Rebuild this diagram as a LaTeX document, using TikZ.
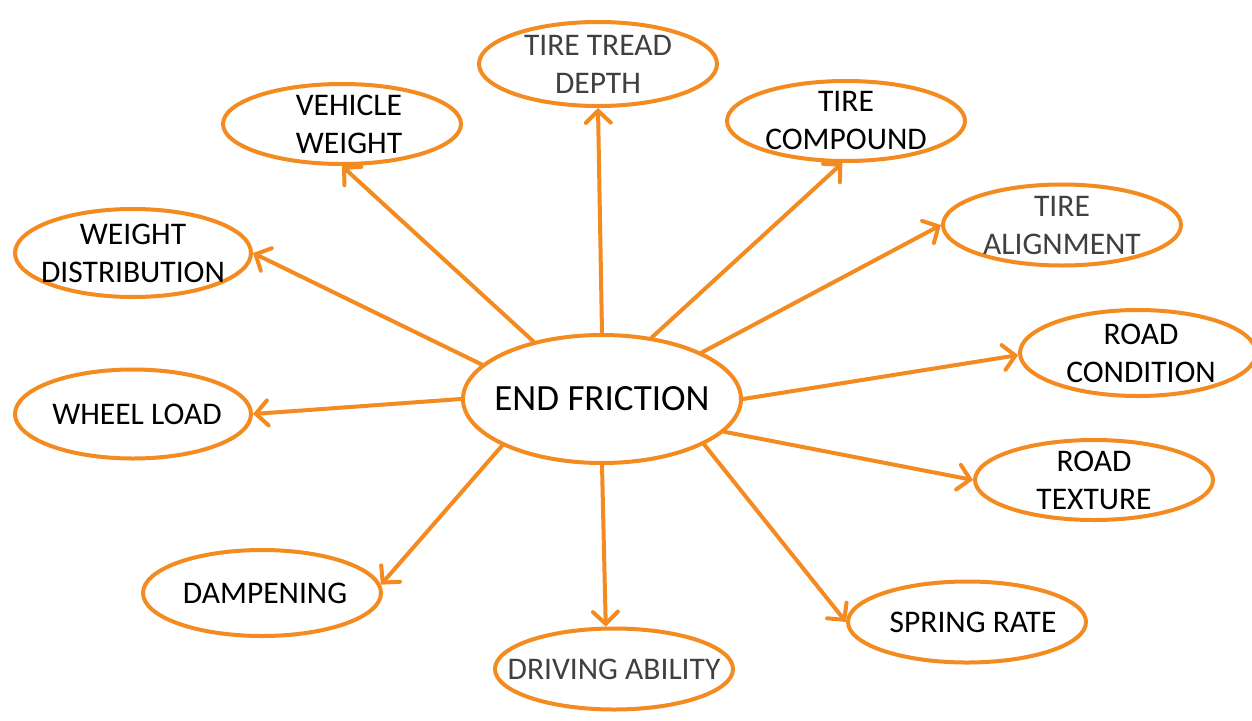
\documentclass[tikz,border=0pt]{standalone}
\usepackage{fontspec}
\setmainfont{Carlito}
\usetikzlibrary{shapes.geometric,arrows.meta}
\definecolor{org}{RGB}{243,139,32}
\definecolor{dgray}{RGB}{64,64,64}
\tikzset{
  bub/.style={ellipse, draw=org, line width=4pt, fill=white, inner sep=-60pt,
    minimum width=238pt, minimum height=83pt, align=center,
    font=\fontsize{31.5}{38}\selectfont, text=black},
  gtext/.style={text=dgray},
  conn/.style={draw=org, line width=4pt, line cap=round,
    -{Straight Barb[length=12pt,width=25pt,line width=4pt,line cap=round]}}
}
\begin{document}
\begin{tikzpicture}[x=1pt,y=-1pt]
\useasboundingbox[fill=white] (0,0) rectangle (1252,720);
\node[bub, minimum width=278pt, minimum height=128pt, font=\fontsize{37}{44}\selectfont] (ef) at (602,399) {END FRICTION};
\node[bub, gtext, minimum height=84pt] (ttd) at (598,64) {TIRE TREAD\\DEPTH};
\node[bub, minimum height=80pt] (vw) at (342,124) {\hspace*{14pt}VEHICLE\\\hspace*{14pt}WEIGHT};
\node[bub, minimum height=80pt] (tc) at (846,121) {TIRE\\COMPOUND};
\node[bub, minimum width=236pt, minimum height=88pt] (wd) at (133,253) {WEIGHT\\DISTRIBUTION};
\node[bub, gtext, minimum height=81pt] (ta) at (1062,225) {TIRE\\ALIGNMENT};
\node[bub, minimum width=236pt, minimum height=86pt] (rc) at (1138,353) {\hspace*{6pt}ROAD\\\hspace*{6pt}CONDITION};
\node[bub, minimum width=236pt, minimum height=89pt] (wl) at (133,414) {\hspace*{8pt}WHEEL LOAD};
\node[bub, minimum height=80pt] (rt) at (1094,480) {ROAD\\TEXTURE};
\node[bub, minimum height=86pt] (dp) at (262,593) {\hspace*{6pt}DAMPENING};
\node[bub, gtext, minimum height=81pt] (da) at (614,669) {DRIVING ABILITY};
\node[bub, minimum height=81pt] (sr) at (967,622) {\hspace*{12pt}SPRING RATE};
\draw[conn] (ef.90) -- (ttd.south);
\draw[conn] (ef.140) -- (vw.south);
\draw[conn] (ef.51) -- (tc.265);
\draw[conn] (ef.25) -- (ta.west);
\draw[conn] (ef.east) -- (rc.181);
\draw[conn] (ef.-15) -- (rt.west);
\draw[conn] (ef.-24.5) -- (sr.west);
\draw[conn] (ef.south) -- (da.101);
\draw[conn] (ef.205.6) -- (dp.4);
\draw[conn] (ef.west) -- (wl.east);
\draw[conn] (ef.164.5) -- (wd.east);
\end{tikzpicture}
\end{document}
